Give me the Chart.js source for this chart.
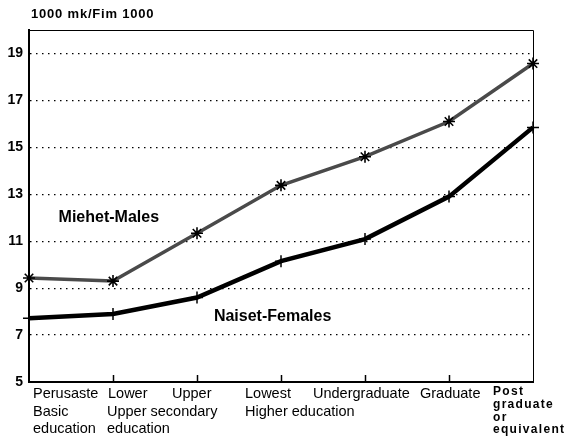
<!DOCTYPE html>
<html><head><meta charset="utf-8">
<script src="https://cdn.jsdelivr.net/npm/chart.js@4/dist/chart.umd.min.js"></script>
<style>html,body{margin:0;padding:0;background:#fff}#wrap{width:573px;height:437px}</style>
</head><body><div id="wrap"><canvas id="c" width="573" height="437"></canvas></div>
<script>
const categories = ['Perusaste','Lower','Upper','Lowest','Undergraduate','Graduate','Post graduate or equivalent'];
const categoryLines = [['Perusaste','Basic','education'],['Lower'],['Upper'],['Lowest'],['Undergraduate'],['Graduate'],['Post','graduate','or','equivalent']];
const groupLines = [['Upper secondary','education'],['Higher education']];
const males = [9.43, 9.3, 11.34, 13.38, 14.6, 16.1, 18.57];
const females = [7.72, 7.9, 8.6, 10.15, 11.09, 12.9, 15.85];
const yTicks = [5,7,9,11,13,15,17,19];
const unitTitle = '1000 mk/Fim 1000';
const seriesNames = ['Miehet-Males','Naiset-Females'];

const FONT = '"Liberation Sans", Arial, sans-serif';

const decor = {
  id:'decor',
  afterDraw(chart){
    const ctx = chart.ctx, a = chart.chartArea, x = chart.scales.x, y = chart.scales.y;
    ctx.save();
    // frame top/right
    ctx.strokeStyle='#000'; ctx.lineWidth=1;
    ctx.beginPath(); ctx.moveTo(a.left, a.top+0.5); ctx.lineTo(a.right+0.5, a.top+0.5); ctx.lineTo(a.right+0.5, a.bottom); ctx.stroke();
    // inward ticks
    ctx.lineWidth=1.5;
    for(let i=1;i<categories.length-1;i++){
      const px = Math.round(x.getPixelForValue(i))+0.5;
      ctx.beginPath(); ctx.moveTo(px, a.bottom); ctx.lineTo(px, a.bottom-7); ctx.stroke();
    }
    // title
    ctx.fillStyle='#000';
    ctx.font='bold 13px '+FONT; ctx.textBaseline='middle'; ctx.textAlign='left';
    ctx.letterSpacing='0.8px';
    ctx.fillText(unitTitle, 31, 14);
    ctx.letterSpacing='0px';
    // series labels
    ctx.font='bold 16px '+FONT; ctx.textAlign='center';
    ctx.fillText(seriesNames[0], x.getPixelForValue(0.95), y.getPixelForValue(12.0));
    ctx.fillText(seriesNames[1], x.getPixelForValue(2.9), y.getPixelForValue(7.8));
    // category labels
    const lh = 17.5, y0 = a.bottom + 12;
    const px = i => x.getPixelForValue(i);
    ctx.font='14.5px '+FONT; ctx.textAlign='left';
    const offs = [4, -5, -25, -36, -52, -29];
    for(let i=0;i<6;i++){
      categoryLines[i].forEach((t,k)=>ctx.fillText(t, px(i)+offs[i], y0 + k*lh));
    }
    groupLines[0].forEach((t,k)=>ctx.fillText(t, px(1)-6, y0 + (k+1)*lh));
    groupLines[1].forEach((t,k)=>ctx.fillText(t, px(3)-36, y0 + (k+1)*lh));
    ctx.font='bold 12px '+FONT; ctx.letterSpacing='1.3px';
    categoryLines[6].forEach((t,k)=>ctx.fillText(t, px(6)-40, y0 - 2 + k*12.7));
    ctx.letterSpacing='0px';
    ctx.restore();
  }
};

new Chart(document.getElementById('c'), {
  type:'line',
  data:{labels:categories, datasets:[
    {label:seriesNames[0], data:males, borderColor:'#4a4a4a', borderWidth:3.5, pointStyle:'star', pointRadius:6, pointBorderWidth:1.6, pointBorderColor:'#000', pointBackgroundColor:'#000', tension:0},
    {label:seriesNames[1], data:females, borderColor:'#000', borderWidth:4.5, pointStyle:'cross', pointRadius:6, pointBorderWidth:1.5, pointBorderColor:'#000', tension:0}
  ]},
  options:{
    responsive:false, animation:false,
    layout:{padding:{top:30,right:40,left:0,bottom:0}},
    plugins:{legend:{display:false}, tooltip:{enabled:false}},
    scales:{
      x:{type:'category', offset:false,
        afterFit(s){s.height=55;},
        ticks:{display:false},
        grid:{display:false, drawTicks:false},
        border:{display:true, color:'#000', width:2}},
      y:{min:5, max:20,
        afterFit(s){s.width=29;},
        afterBuildTicks(s){s.ticks = yTicks.map(v=>({value:v}));},
        ticks:{padding:6, color:'#000', font:{family:FONT, size:14, weight:'bold'}},
        grid:{drawTicks:false, color:c=> (c.tick && c.tick.value>5 && c.tick.value<20) ? '#000' : 'rgba(0,0,0,0)', lineWidth:1.2},
        border:{display:true, color:'#000', width:2, dash:[1.5,4.5]}
      }
    }
  },
  plugins:[decor]
});
</script></body></html>
